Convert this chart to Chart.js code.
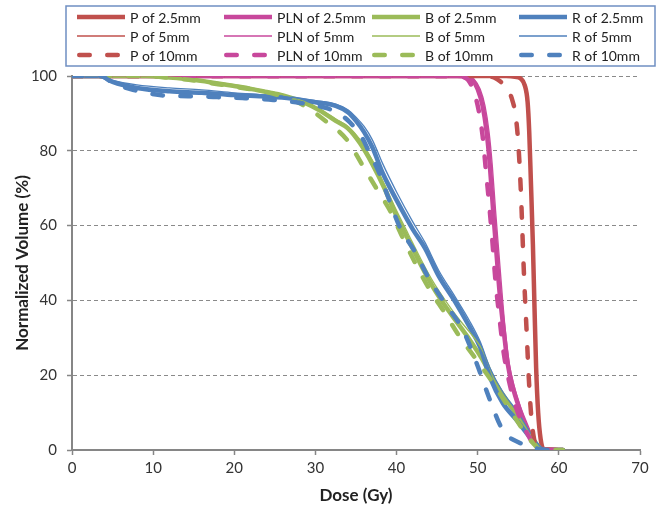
<!DOCTYPE html>
<html>
<head>
<meta charset="utf-8">
<script src="https://cdn.jsdelivr.net/npm/chart.js@4.4.1/dist/chart.umd.min.js"></script>
<style>
  body { margin: 0; background: #fff; }
  #wrap { width: 658px; height: 510px; }
</style>
</head>
<body>
<div id="wrap"><canvas id="dvhChart" width="658" height="510"></canvas></div>
<script>
// axis ticks
const doseTicks = [0, 10, 20, 30, 40, 50, 60, 70];
const volumeTicks = [0, 20, 40, 60, 80, 100];

// P (red)
const pDose25 = [0, 53.5, 54.6, 55.3, 55.8, 56.15, 56.35, 56.55, 56.8, 57.0, 57.2, 57.45, 57.75, 58.1, 60.5];
const pVol25  = [100, 100, 99.8, 99.3, 97.5, 93, 85, 72, 55, 38, 22, 10, 3, 0.3, 0];
const pDose5  = [0, 53.4, 54.5, 55.2, 55.7, 56.05, 56.3, 56.5, 56.75, 56.95, 57.15, 57.4, 57.7, 58.1, 60.5];
const pVol5   = [100, 100, 99.8, 99.3, 97.5, 93, 85, 72, 55, 38, 22, 10, 3, 0.3, 0];
const pDose10 = [0, 51, 52, 52.8, 53.5, 54.2, 54.7, 55.0, 55.3, 55.7, 56.0, 56.3, 56.6, 56.9, 57.3, 60.5];
const pVol10  = [100, 100, 99.6, 98.5, 97, 94, 89, 82, 70, 47, 33, 19, 9, 3.5, 0.5, 0];

// PLN (magenta)
const plnDose25 = [0, 47.5, 48.5, 49.3, 50, 50.6, 51.1, 51.5, 51.9, 52.3, 52.7, 53.2, 53.7, 54.3, 55, 55.8, 56.6, 57.3, 58, 60.5];
const plnVol25  = [100, 100, 99.8, 99, 96.5, 92, 85, 76, 64, 53, 42, 32, 23, 17, 12, 7.5, 3.5, 1, 0, 0];
const plnDose5  = [0, 47.8, 48.8, 49.6, 50.3, 50.9, 51.4, 51.8, 52.2, 52.6, 53.0, 53.4, 53.9, 54.5, 55.2, 55.9, 56.7, 57.3, 58, 60.5];
const plnVol5   = [100, 100, 99.8, 99, 96.5, 92, 85, 76, 64, 53, 42, 32, 23, 17, 12, 7.5, 3.5, 1, 0, 0];
const plnDose10 = [0, 47, 48, 48.8, 49.5, 50.1, 50.6, 51.0, 51.4, 51.8, 52.2, 52.7, 53.2, 53.8, 54.5, 55.3, 56.2, 57, 57.8, 60.5];
const plnVol10  = [100, 100, 99.8, 99, 96, 91, 84, 75, 66, 56, 45, 35, 26, 19, 13, 8, 4, 1.2, 0, 0];

// B (green)
const bDose25 = [0, 9, 12, 15, 18, 21, 24, 26, 28.5, 30.5, 32.5, 34, 35.5, 37, 38.5, 40, 41.5, 43, 44.5, 46, 47.5, 49, 50.5, 52, 53.5, 55, 56.3, 57.3, 58, 60.5];
const bVol25  = [100, 100, 99.6, 99, 98, 97, 95.7, 94.8, 93, 90.8, 88, 86, 82, 76.5, 70, 62.5, 56, 49.5, 43.5, 38.5, 34, 29.5, 24.5, 18.5, 13.5, 8.8, 4.6, 1.5, 0, 0];
const bDose5  = [0, 9, 12, 15, 18, 21, 24, 26, 28.5, 30.5, 32.5, 34, 35.5, 37, 38.5, 40, 41.5, 43, 44.5, 46, 47.5, 49, 50.5, 52, 53.5, 55, 56.3, 57.3, 58, 60.5];
const bVol5   = [100, 100, 99.7, 99.2, 98.3, 97.3, 96, 95, 93.3, 91.2, 88.5, 86.5, 83, 77.5, 71, 64, 57.5, 51, 45, 40, 35.5, 31.5, 27, 19.5, 14, 9, 4.8, 1.6, 0, 0];
const bDose10 = [0, 9, 12, 15, 18, 21, 24.4, 28.5, 31.4, 33.9, 35.7, 37.7, 39.2, 40.6, 42.3, 44.1, 45.9, 47.8, 49.9, 51.9, 54, 55.6, 56.8, 57.6, 60.5];
const bVol10  = [100, 100, 99.5, 98.8, 97.8, 96.8, 95.5, 92.2, 87.7, 82.9, 76.5, 69.3, 64, 57.5, 50, 42.8, 36.8, 30.2, 24, 17.9, 10.7, 5.3, 1.9, 0.3, 0];

// R (blue)
const rDose25 = [0, 3.5, 5, 8, 12, 16, 20, 24, 27, 30, 32.5, 34, 35, 36, 37, 38.3, 40, 42, 43.5, 45.2, 47.2, 49, 50.3, 51.5, 53.1, 54.8, 56.4, 57.7, 58.5, 60.5];
const rVol25  = [100, 100, 98.4, 96.8, 95.9, 95.5, 94.9, 94.5, 94, 93, 92, 90.3, 88, 85, 81, 74, 66.8, 59, 54, 46.5, 39.7, 32.9, 27.5, 19.5, 12.5, 8, 3.5, 0.5, 0, 0];
const rDose5  = [0, 3.5, 5, 8, 12, 16, 20, 24, 27, 30, 32.5, 34, 35, 36, 37, 38.3, 40, 42, 43.5, 45.2, 47.2, 49, 50.3, 51.5, 53.1, 54.8, 56.4, 57.7, 58.5, 60.5];
const rVol5   = [100, 100, 98.8, 97.6, 96.8, 96.3, 95.5, 94.9, 94.3, 93.4, 92.5, 91, 89, 86.5, 83, 76.5, 69, 61, 55.5, 48, 41, 34.5, 29, 22, 15.5, 10.5, 5, 1, 0, 0];
const rDose10 = [0, 3.5, 5, 7.2, 10.8, 14.3, 17.4, 21, 24.8, 28.1, 31.4, 33, 34.3, 35.9, 36.5, 37.7, 39, 40.4, 42.3, 43.9, 45.9, 48.2, 49.9, 51.5, 53.1, 55.2, 56.8, 58, 60.5];
const rVol10  = [100, 100, 98.2, 96.5, 94.9, 94.6, 94.4, 94.1, 93.6, 92.8, 91.4, 89.8, 87.5, 82.9, 80.2, 74.9, 67.4, 59.6, 52.9, 46.2, 39.4, 32, 23, 13.4, 5.3, 1.9, 0.8, 0, 0];

// legend order (row by row, 4 per row)
const seriesLabels = [
  'P of 2.5mm', 'PLN of 2.5mm', 'B of 2.5mm', 'R of 2.5mm',
  'P of 5mm', 'PLN of 5mm', 'B of 5mm', 'R of 5mm',
  'P of 10mm', 'PLN of 10mm', 'B of 10mm', 'R of 10mm'
];
const seriesDose = [pDose25, plnDose25, bDose25, rDose25, pDose5, plnDose5, bDose5, rDose5, pDose10, plnDose10, bDose10, rDose10];
const seriesVol  = [pVol25, plnVol25, bVol25, rVol25, pVol5, plnVol5, bVol5, rVol5, pVol10, plnVol10, bVol10, rVol10];

const colors = ['#C0504D', '#C8489C', '#9BBB59', '#4F81BD'];
const dashPattern = [10.5, 17.5];

function toPoints(xs, ys) {
  return xs.map((x, i) => ({ x: x, y: ys[i] }));
}

const datasets = seriesLabels.map((label, i) => {
  const row = Math.floor(i / 4); // 0 = thick, 1 = thin, 2 = dashed
  return {
    label: label,
    data: toPoints(seriesDose[i], seriesVol[i]),
    borderColor: colors[i % 4],
    borderWidth: row === 1 ? 1.3 : 4.5,
    borderDash: row === 2 ? dashPattern : [],
    borderCapStyle: 'round',
    borderJoinStyle: 'round',
    pointRadius: 0,
    showLine: true,
    fill: false,
    cubicInterpolationMode: 'monotone',
    order: 12 - i
  };
});

// legend drawn in a box above the plot, columns like the original
const legendColX = [77, 224, 372, 519];
const legendRowY = [17, 36, 55];

const boxLegend = {
  id: 'boxLegend',
  afterDraw(chart) {
    const ctx = chart.ctx;
    ctx.save();
    ctx.strokeStyle = '#6f8fc2';
    ctx.lineWidth = 1.5;
    ctx.strokeRect(66, 6, 589, 60);
    ctx.font = '14px Lato';
    ctx.fillStyle = '#222';
    ctx.textBaseline = 'middle';
    chart.data.datasets.forEach((ds, i) => {
      const x = legendColX[i % 4];
      const y = legendRowY[Math.floor(i / 4)];
      ctx.beginPath();
      ctx.strokeStyle = ds.borderColor;
      ctx.lineWidth = ds.borderWidth;
      ctx.lineCap = ds.borderDash.length ? 'round' : 'butt';
      ctx.setLineDash(ds.borderDash);
      ctx.moveTo(ds.borderDash.length ? x + 2.25 : x, y);
      ctx.lineTo(x + 48, y);
      ctx.stroke();
      ctx.setLineDash([]);
      ctx.fillText(ds.label, x + 53, y + 1);
    });
    ctx.restore();
  }
};

Chart.defaults.font.family = 'Lato';
Chart.defaults.color = '#333';

new Chart(document.getElementById('dvhChart'), {
  type: 'scatter',
  data: { datasets: datasets },
  options: {
    responsive: false,
    animation: false,
    devicePixelRatio: 1,
    layout: { padding: { left: 0, top: 76, right: 18, bottom: 0 } },
    plugins: {
      legend: { display: false },
      tooltip: { enabled: false }
    },
    scales: {
      x: {
        type: 'linear',
        min: 0,
        max: 70,
        afterBuildTicks: s => { s.ticks = doseTicks.map(v => ({ value: v })); },
        afterFit: s => { s.height = 60; },
        ticks: { font: { size: 15 }, padding: 4, color: '#333' },
        grid: { drawOnChartArea: false, drawTicks: true, tickLength: 5, tickColor: '#868686', tickWidth: 1.5 },
        border: { color: '#868686', width: 2 },
        title: { display: true, text: 'Dose (Gy)', font: { size: 17, weight: 'bold' }, color: '#222', padding: { top: 0, bottom: 4 } }
      },
      y: {
        type: 'linear',
        min: 0,
        max: 100,
        afterBuildTicks: s => { s.ticks = volumeTicks.map(v => ({ value: v })); },
        afterFit: s => { s.width = 72; },
        ticks: { font: { size: 15 }, padding: 10, color: '#333' },
        grid: { color: '#8a8a8a', lineWidth: 1, drawTicks: true, tickLength: 5, tickColor: '#868686', tickWidth: 1.5, tickBorderDash: [] },
        border: { color: '#868686', width: 2, dash: [4, 3] },
        title: { display: true, text: 'Normalized Volume (%)', font: { size: 17, weight: 'bold' }, color: '#222', padding: { top: 12, bottom: 0 } }
      }
    }
  },
  plugins: [boxLegend]
});
</script>
</body>
</html>
